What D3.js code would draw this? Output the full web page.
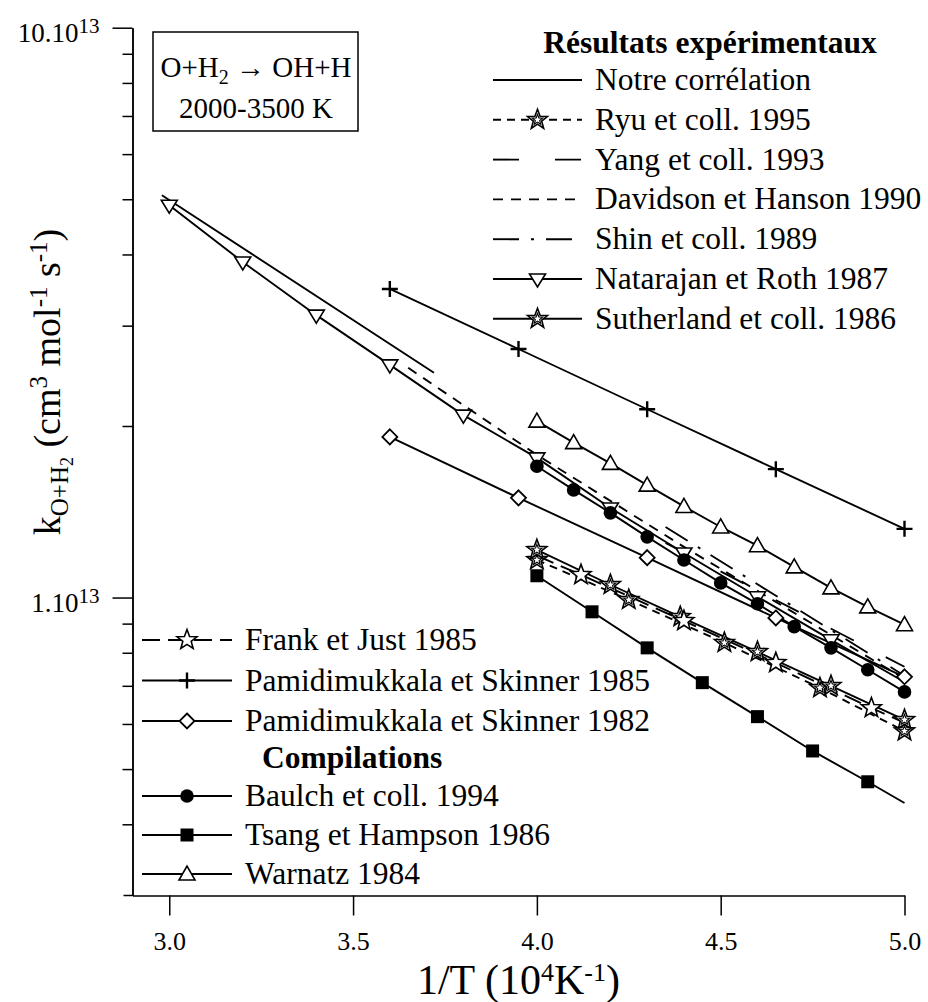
<!DOCTYPE html>
<html><head><meta charset="utf-8">
<script src="https://cdn.jsdelivr.net/npm/d3@7"></script>
<style>
body{margin:0;background:#fff}
text{font-family:"Liberation Serif","Times New Roman",serif;fill:#000}
</style>
</head><body>
<svg id="c" width="928" height="1002"></svg>
<script>
// ---------- axis ticks ----------
const xTicks = [3.0, 3.5, 4.0, 4.5, 5.0];
const xTickLabels = ["3.0", "3.5", "4.0", "4.5", "5.0"];
const yMajor = [1e13, 1e14];
const yMajorLabels = ["1.10", "10.10"];
const yMajorExp = ["13", "13"];
const yMinor = [4e12,5e12,6e12,7e12,8e12,9e12,2e13,3e13,4e13,5e13,6e13,7e13,8e13,9e13];

// ---------- series (x = 1/T in 1e4 K^-1, k in cm3 mol-1 s-1) ----------
const notreX = [2.98, 3.72];
const notreK = [5.08e13, 2.48e13];

const ryuX = [4.0, 4.25, 4.51, 4.77, 5.0];
const ryuK = [1.164e13, 9.91e12, 8.33e12, 6.94e12, 5.83e12];

const yangX = [4.35, 5.0];
const yangK = [1.247e13, 7.56e12];

const davidsonX = [3.65, 4.0, 4.4, 5.0];
const davidsonK = [2.53e13, 1.78e13, 1.227e13, 7.20e12];

const shinX = [4.35, 5.0];
const shinK = [1.33e13, 7.29e12];

const natarajanX = [3.0, 3.2, 3.4, 3.6, 3.8, 4.0, 4.2, 4.4, 4.6, 4.8, 5.0];
const natarajanK = [4.88e13, 3.88e13, 3.13e13, 2.56e13, 2.09e13, 1.758e13, 1.436e13, 1.197e13, 1.003e13, 8.43e12, 7.11e12];
const natarajanMarkX = [3.0, 3.2, 3.4, 3.6, 3.8, 4.0, 4.2, 4.4, 4.6, 4.8];
const natarajanMarkK = [4.88e13, 3.88e13, 3.13e13, 2.56e13, 2.09e13, 1.758e13, 1.436e13, 1.197e13, 1.003e13, 8.43e12];

const sutherlandX = [4.0, 4.2, 4.39, 4.6, 4.8, 5.0];
const sutherlandK = [1.2125e13, 1.053e13, 9.25e12, 8.03e12, 7.00e12, 6.10e12];

const frankX = [4.0, 4.12, 4.4, 4.65, 4.91, 5.0];
const frankK = [1.184e13, 1.096e13, 9.10e12, 7.68e12, 6.40e12, 6.03e12];
const frankMarkX = [4.12, 4.4, 4.65, 4.91];
const frankMarkK = [1.096e13, 9.10e12, 7.68e12, 6.40e12];

const pamid85X = [3.6, 3.95, 4.3, 4.65, 5.0];
const pamid85K = [3.48e13, 2.73e13, 2.14e13, 1.68e13, 1.32e13];

const pamid82X = [3.6, 3.95, 4.3, 4.65, 5.0];
const pamid82K = [1.914e13, 1.496e13, 1.175e13, 9.21e12, 7.26e12];

const baulchX = [4.0, 4.1, 4.2, 4.3, 4.4, 4.5, 4.6, 4.7, 4.8, 4.9, 5.0];
const baulchK = [1.70e13, 1.545e13, 1.408e13, 1.278e13, 1.164e13, 1.061e13, 9.75e12, 8.89e12, 8.16e12, 7.47e12, 6.83e12];

const tsangX = [4.0, 4.15, 4.3, 4.45, 4.6, 4.75, 4.9, 5.0];
const tsangK = [1.092e13, 9.44e12, 8.16e12, 7.09e12, 6.18e12, 5.38e12, 4.75e12, 4.36e12];
const tsangMarkX = [4.0, 4.15, 4.3, 4.45, 4.6, 4.75, 4.9];
const tsangMarkK = [1.092e13, 9.44e12, 8.16e12, 7.09e12, 6.18e12, 5.38e12, 4.75e12];

const warnatzX = [4.0, 4.1, 4.2, 4.3, 4.4, 4.5, 4.6, 4.7, 4.8, 4.9, 5.0];
const warnatzK = [2.04e13, 1.87e13, 1.72e13, 1.575e13, 1.445e13, 1.33e13, 1.233e13, 1.132e13, 1.04e13, 9.63e12, 8.96e12];

// ---------- legend text ----------
const topHeader = "Résultats expérimentaux";
const topNames = ["Notre corrélation", "Ryu et coll. 1995", "Yang et coll. 1993", "Davidson et Hanson 1990",
                  "Shin et coll. 1989", "Natarajan et Roth 1987", "Sutherland et coll. 1986"];
const bottomNames1 = ["Frank et Just 1985", "Pamidimukkala et Skinner 1985", "Pamidimukkala et Skinner 1982"];
const bottomHeader = "Compilations";
const bottomNames2 = ["Baulch et coll. 1994", "Tsang et Hampson 1986", "Warnatz 1984"];

// ---------- style table ----------
const zip = (a, b) => a.map((v, i) => [v, b[i]]);
const series = [
  {line: zip(notreX, notreK), marks: [], marker: null, dash: null},
  {line: zip(ryuX, ryuK), marks: zip(ryuX, ryuK), marker: "star2", dash: "8,6"},
  {line: zip(yangX, yangK), marks: [], marker: null, dash: "26,36"},
  {line: zip(davidsonX, davidsonK), marks: [], marker: null, dash: "10,8"},
  {line: zip(shinX, shinK), marks: [], marker: null, dash: "26,12,3,12"},
  {line: zip(natarajanX, natarajanK), marks: zip(natarajanMarkX, natarajanMarkK), marker: "tridown", dash: null},
  {line: zip(sutherlandX, sutherlandK), marks: zip(sutherlandX, sutherlandK), marker: "star2", dash: null},
  {line: zip(frankX, frankK), marks: zip(frankMarkX, frankMarkK), marker: "star", dash: "18,8"},
  {line: zip(pamid85X, pamid85K), marks: zip(pamid85X, pamid85K), marker: "plus", dash: null},
  {line: zip(pamid82X, pamid82K), marks: zip(pamid82X, pamid82K), marker: "diamond", dash: null},
  {line: zip(baulchX, baulchK), marks: zip(baulchX, baulchK), marker: "circle", dash: null},
  {line: zip(tsangX, tsangK), marks: zip(tsangMarkX, tsangMarkK), marker: "square", dash: null},
  {line: zip(warnatzX, warnatzK), marks: zip(warnatzX, warnatzK), marker: "triup", dash: null}
];

const svg = d3.select("#c");
const x = d3.scaleLinear().domain([2.9, 5.0]).range([132.5, 904.5]);
const y = d3.scaleLog().domain([3e12, 1e14]).range([895.5, 27.7]);

function starPath(R, r) {
  const pts = [];
  for (let i = 0; i < 10; i++) {
    const a = -Math.PI / 2 + i * Math.PI / 5;
    const rr = i % 2 === 0 ? R : r;
    pts.push([rr * Math.cos(a), rr * Math.sin(a)]);
  }
  return "M" + pts.map(p => p[0].toFixed(2) + "," + p[1].toFixed(2)).join("L") + "Z";
}
function drawMarker(g, type, cx, cy) {
  const m = g.append("g").attr("transform", `translate(${cx},${cy})`);
  if (type === "star" || type === "star2") {
    m.append("path").attr("d", starPath(10.5, 4.4)).attr("fill", "#fff").attr("stroke", "#000").attr("stroke-width", 1.6);
    if (type === "star2") m.append("path").attr("d", starPath(5.5, 2.3)).attr("fill", "none").attr("stroke", "#000").attr("stroke-width", 1.1);
  } else if (type === "tridown") {
    m.append("path").attr("d", "M-8,-5L8,-5L0,8Z").attr("fill", "#fff").attr("stroke", "#000").attr("stroke-width", 1.6);
  } else if (type === "triup") {
    m.append("path").attr("d", "M-8,6L8,6L0,-8Z").attr("fill", "#fff").attr("stroke", "#000").attr("stroke-width", 1.6);
  } else if (type === "plus") {
    m.append("path").attr("d", "M-8,0H8M0,-8V8").attr("stroke", "#000").attr("stroke-width", 2.4);
  } else if (type === "diamond") {
    m.append("path").attr("d", "M0,-7.5L7.5,0L0,7.5L-7.5,0Z").attr("fill", "#fff").attr("stroke", "#000").attr("stroke-width", 1.8);
  } else if (type === "circle") {
    m.append("circle").attr("r", 6.8).attr("fill", "#000");
  } else if (type === "square") {
    m.append("rect").attr("x", -6.5).attr("y", -6.5).attr("width", 13).attr("height", 13).attr("fill", "#000");
  }
}

// ---------- axes ----------
const yMinorAxis = d3.axisLeft(y).tickValues(yMinor).tickSize(10).tickFormat("").tickSizeOuter(0);
const yMajorAxis = d3.axisLeft(y).tickValues(yMajor).tickSize(20).tickFormat("").tickSizeOuter(0);
const gY1 = svg.append("g").attr("transform", `translate(${x(2.9)},0)`).call(yMinorAxis);
const gY2 = svg.append("g").attr("transform", `translate(${x(2.9)},0)`).call(yMajorAxis);
[gY1, gY2].forEach(g => { g.selectAll("line,path").attr("stroke", "#000").attr("stroke-width", 1.5); });

yMajor.forEach((v, i) => {
  const t = svg.append("text").attr("x", x(2.9) - 33).attr("y", y(v) + 14)
    .attr("text-anchor", "end").attr("font-size", 27);
  t.append("tspan").text(yMajorLabels[i]);
  t.append("tspan").attr("dy", -9).attr("font-size", 21).text(yMajorExp[i]);
});

const xAxis = d3.axisBottom(x).tickValues(xTicks).tickSize(20).tickSizeOuter(0)
  .tickFormat((d, i) => xTickLabels[i]);
const gX = svg.append("g").attr("transform", `translate(0,${y(3e12)})`).call(xAxis);
gX.selectAll("line,path").attr("stroke", "#000").attr("stroke-width", 1.5);
gX.selectAll("text").attr("font-size", 26).attr("y", 36).attr("font-family", "Liberation Serif").attr("fill", "#000");
gX.append("line").attr("x1", x(2.9) - 9).attr("x2", x(2.9)).attr("stroke", "#000").attr("stroke-width", 1.5);

// axis titles
const xt = svg.append("text").attr("x", (x(2.9) + x(5.0)) / 2).attr("y", 994).attr("text-anchor", "middle").attr("font-size", 42);
xt.append("tspan").text("1/T (10");
xt.append("tspan").attr("dy", -13).attr("font-size", 26).text("4");
xt.append("tspan").attr("dy", 13).text("K");
xt.append("tspan").attr("dy", -13).attr("font-size", 26).text("-1");
xt.append("tspan").attr("dy", 13).text(")");

const yt = svg.append("text").attr("transform", "translate(60,382) rotate(-90)").attr("text-anchor", "middle").attr("font-size", 38);
yt.append("tspan").text("k");
yt.append("tspan").attr("dy", 8).attr("font-size", 25).text("O+H");
yt.append("tspan").attr("dy", 5).attr("font-size", 18).text("2");
yt.append("tspan").attr("dy", -13).text(" (cm");
yt.append("tspan").attr("dy", -13).attr("font-size", 25).text("3");
yt.append("tspan").attr("dy", 13).text(" mol");
yt.append("tspan").attr("dy", -13).attr("font-size", 25).text("-1");
yt.append("tspan").attr("dy", 13).text(" s");
yt.append("tspan").attr("dy", -13).attr("font-size", 25).text("-1");
yt.append("tspan").attr("dy", 13).text(")");

// ---------- data ----------
const lineGen = d3.line().x(d => x(d[0])).y(d => y(d[1]));
const gData = svg.append("g");
series.forEach(s => {
  gData.append("path").attr("d", lineGen(s.line)).attr("fill", "none").attr("stroke", "#000")
    .attr("stroke-width", 1.9).attr("stroke-dasharray", s.dash);
});
series.forEach(s => {
  s.marks.forEach(p => drawMarker(gData, s.marker, x(p[0]), y(p[1])));
});

// ---------- title box ----------
svg.append("rect").attr("x", 153).attr("y", 32).attr("width", 205).attr("height", 99)
  .attr("fill", "#fff").attr("stroke", "#000").attr("stroke-width", 1.5);
const t1 = svg.append("text").attr("x", 256).attr("y", 77).attr("text-anchor", "middle").attr("font-size", 29);
t1.append("tspan").text("O+H");
t1.append("tspan").attr("dy", 7).attr("font-size", 20).text("2");
t1.append("tspan").attr("dy", -7).text(" \u2192 OH+H");
svg.append("text").attr("x", 256).attr("y", 118).attr("text-anchor", "middle").attr("font-size", 29).text("2000-3500 K");

// ---------- legends ----------
function legendEntry(s, x0, x1, xt, base, name) {
  const ly = base - 10;
  svg.append("line").attr("x1", x0).attr("x2", x1).attr("y1", ly).attr("y2", ly)
    .attr("stroke", "#000").attr("stroke-width", 1.9).attr("stroke-dasharray", s.dash);
  if (s.marker) drawMarker(svg, s.marker, (x0 + x1) / 2, ly);
  svg.append("text").attr("x", xt).attr("y", base).attr("font-size", 31.5).text(name);
}
svg.append("text").attr("x", 710).attr("y", 53).attr("text-anchor", "middle").attr("font-size", 31.5)
  .attr("font-weight", "bold").text(topHeader);
topNames.forEach((n, i) => legendEntry(series[i], 493, 582, 595, 90 + i * 39.8, n));

bottomNames1.forEach((n, i) => legendEntry(series[7 + i], 142, 232, 245, 650 + i * 40.5, n));
svg.append("text").attr("x", 262).attr("y", 768).attr("font-size", 31.5).attr("font-weight", "bold").text(bottomHeader);
bottomNames2.forEach((n, i) => legendEntry(series[10 + i], 142, 232, 245, 806 + i * 39, n));
</script>
</body></html>
